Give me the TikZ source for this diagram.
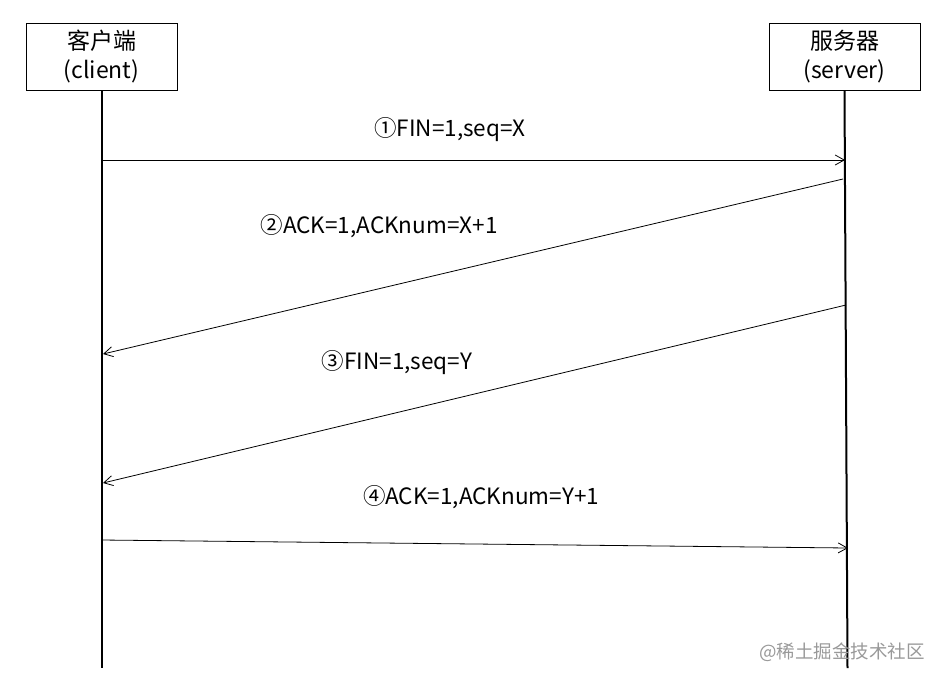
\documentclass[tikz,border=0pt]{standalone}
\usepackage{fontspec}
\setmainfont{Noto Sans CJK SC}
\usetikzlibrary{positioning,arrows.meta}

\begin{document}
\begin{tikzpicture}[x=1pt,y=-1pt,
    lifebox/.style={draw,line width=0.9pt,minimum width=151pt,minimum height=67pt,
        align=center,inner sep=0pt,font=\fontsize{23}{29}\selectfont},
    msg/.style={-{Straight Barb[length=9pt,width=10pt]},line width=0.8pt},
    lbl/.style={inner sep=0pt,font=\fontsize{22.5}{24}\selectfont}]
    \def\cx{101.5}
    \def\sx{844.5}

    \useasboundingbox (0,0) rectangle (943,681);

    \node[lifebox] (client) at (\cx,56.5) {客户端\\(client)};
    \node[lifebox] (server) at (\sx,56.5) {服务器\\(server)};

    \coordinate (cend) at (\cx,668);
    \coordinate (send) at (847.5,668);

    \draw[line width=2pt] (client.south) -- (cend);
    \draw[line width=2pt] (server.south) -- (send);

    % messages
    \coordinate (m1a) at (\cx,160);  \coordinate (m1b) at (845,160);
    \coordinate (m2a) at (843,179);  \coordinate (m2b) at (103,354);
    \coordinate (m3a) at (846,305);  \coordinate (m3b) at (103,483);
    \coordinate (m4a) at (\cx,540);  \coordinate (m4b) at (848,548);

    \draw[msg] (m1a) -- (m1b);
    \draw[msg] (m2a) -- (m2b);
    \draw[msg] (m3a) -- (m3b);
    \draw[msg] (m4a) -- (m4b);

    \node[lbl] (l1) at (450,130) {①FIN=1,seq=X};
    \node[lbl] (l2) at (379,226) {②ACK=1,ACKnum=X+1};
    \node[lbl] (l3) at (397,363) {③FIN=1,seq=Y};
    \node[lbl] (l4) at (481,497) {④ACK=1,ACKnum=Y+1};

    \node[text=black!40,font=\fontsize{18.5}{20}\selectfont,inner sep=0pt] (mark) at (842,652) {@稀土掘金技术社区};

\end{tikzpicture}
\end{document}
